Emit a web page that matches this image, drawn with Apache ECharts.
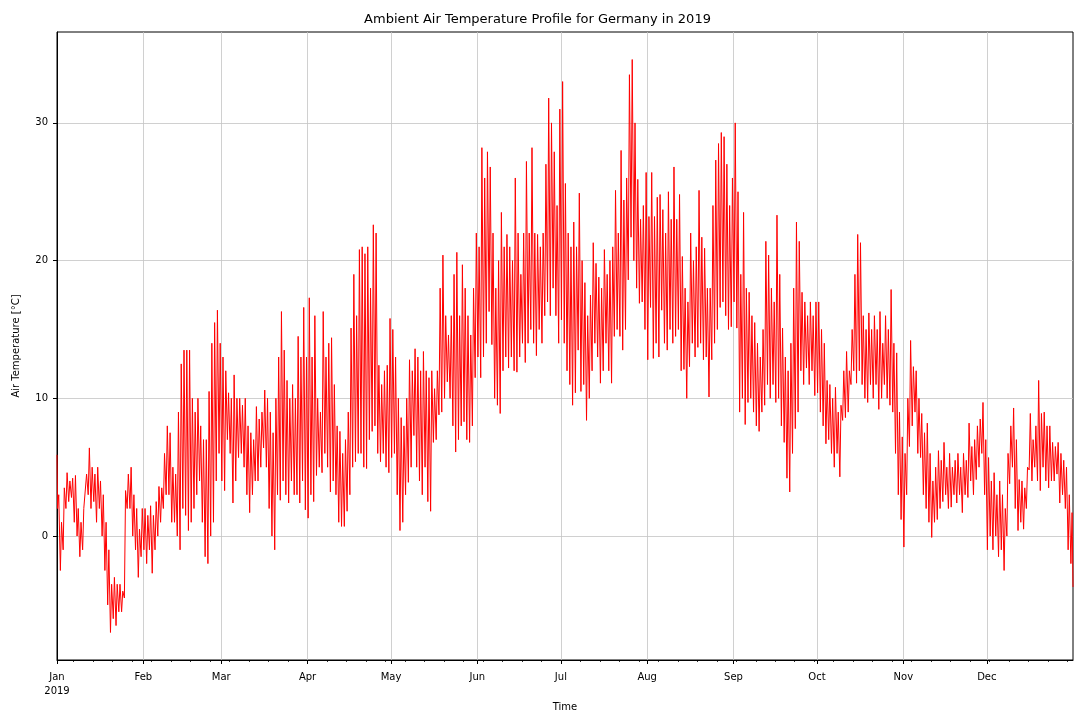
<!DOCTYPE html>
<html>
<head>
<meta charset="utf-8">
<script src="https://cdn.jsdelivr.net/npm/echarts@6/dist/echarts.min.js"></script>
<style>
  html, body { margin: 0; padding: 0; background: #fff; overflow: hidden; }
  #chart { width: 1075px; height: 713px; }
</style>
</head>
<body>
<div id="chart"></div>
<script>
// ---- data (daily low / high, °C) ----
const chartTitle = 'Ambient Air Temperature Profile for Germany in 2019';
const yAxisName = 'Air Temperature [°C]';
const xAxisName = 'Time';
const monthNames = ['Jan', 'Feb', 'Mar', 'Apr', 'May', 'Jun', 'Jul', 'Aug', 'Sep', 'Oct', 'Nov', 'Dec'];
const yTicks = [0, 10, 20, 30];
const year = 2019;
const startValue = 5.9;   // Jan 1, 00:00
const endValue = -3.7;    // Dec 31, 23:00

const dailyLow = [
  // Jan
  2, -2.5, -1, 2, 2.5, 2.8, 1, 0, -1.5, -1, 2, 3, 2, 2.5, 1, 2, 0, -2.5, -5, -7, -6, -6.5, -5.5, -5.5, -4.5, 2, 2, 0, -1, -3, -1.5,
  // Feb
  -1, -2, -1, -2.7, -1, 0, 1, 2, 3, 3, 1, 1, 0, -1, 2, 1.5, 0.4, 1, 2, 3, 4, 1, -1.5, -2, 0, 1, 4, 6,
  // Mar
  4, 3.3, 7, 6, 2.4, 4, 5.7, 6, 5, 3, 1.7, 3, 4, 4, 5, 6.4, 5, 2, 0, -1, 3, 2.6, 4, 3, 2.4, 4, 3, 3, 2.4, 4, 1.9,
  // Apr
  1.3, 3, 2.5, 4.4, 5, 4.6, 6, 5, 3.2, 4, 3, 1, 0.7, 0.7, 1.8, 3, 5, 5.4, 6, 6, 5, 4.9, 7, 7.6, 8, 6, 5.4, 6, 5, 4.6,
  // May
  5.7, 6, 3, 0.4, 1, 3, 3.9, 5, 7.3, 5, 4, 3, 5, 2.5, 1.8, 6.8, 7, 8.8, 9, 10, 11.2, 10, 8, 6.1, 7, 8, 8.3, 7, 6.8, 8, 11.5,
  // Jun
  13, 11.5, 13, 14, 16.3, 13.9, 10, 9.5, 8.9, 12, 13, 12.2, 13, 12, 11.9, 13, 14, 12.6, 14, 15, 14, 13.1, 15, 14, 16, 17, 16, 18, 16, 14,
  // Jul
  15.7, 14, 12, 11, 9.5, 10.4, 13.5, 10.5, 11, 8.4, 10, 12, 14, 13, 11.1, 12, 14, 12, 11.1, 14.5, 15, 14.5, 13.5, 15, 18.6, 21.7, 20, 18, 16.9, 17, 15,
  // Aug
  12.8, 16.6, 12.9, 14, 13, 16.4, 14, 13.5, 15, 14, 14.5, 15, 12, 12.1, 10, 12.3, 14, 13, 13.7, 14, 12.8, 13, 10.1, 12.8, 14, 15, 16.6, 17, 16, 15, 15.2,
  // Sep
  17, 15.1, 9, 10, 8.1, 9.7, 10, 9, 8, 7.6, 9, 9.5, 11, 10, 11, 9.7, 10, 8, 6.8, 4.2, 3.2, 6, 7.8, 9, 12, 11, 12.2, 11, 12, 10.2,
  // Oct
  10.4, 9, 8, 6.7, 7, 6, 5, 6, 4.3, 8.4, 8.6, 9, 11, 12, 11.1, 12, 11, 10, 9.7, 11, 10, 11, 9.2, 10, 11, 10, 9.5, 9, 6, 3, 1.2,
  // Nov
  -0.8, 3, 6.5, 8, 9, 6, 5.7, 3, 2, 1, -0.1, 1, 1.2, 2, 2.5, 3, 2, 2.1, 3, 2.4, 3, 1.7, 3, 2.8, 4, 3, 4.1, 5, 6, 3,
  // Dec
  -1, 0, -1, 0, -1.5, -1, -2.5, 0, 3.8, 5, 2, 0.4, 1, 0.5, 2, 4.8, 4, 5, 4, 3.3, 5, 4, 3.5, 4, 4, 4.5, 2.4, 3, 2, -1, -2
];

const dailyHigh = [
  // Jan
  3, 1, 3.5, 4.6, 4, 4.2, 4.4, 2, 1, 2, 4.5, 6.4, 5, 4.5, 5, 4, 3, 1, -1, -3.5, -3, -3.5, -3.5, -4, 3.3, 4.5, 5, 3, 2, 0.5, 2,
  // Feb
  2, 1.5, 2.2, 1.5, 2.5, 3.6, 3.5, 6, 8, 7.5, 5, 4.5, 9, 12.5, 13.5, 13.5, 13.5, 10, 9, 10, 8, 7, 7, 10.5, 14, 15.5, 16.4, 14,
  // Mar
  13, 12, 10.4, 10, 11.7, 10, 10, 9.5, 10, 8, 7.5, 7, 9.4, 8.5, 9, 10.6, 10, 9, 7.5, 10, 13, 16.3, 13.5, 11.3, 10, 11, 10, 14.5, 13, 16.6, 13,
  // Apr
  17.3, 13, 16, 10, 9, 16.3, 13, 14, 14.4, 11, 8, 7.6, 6, 7, 9, 15.1, 19, 16, 20.8, 21, 20.5, 21, 18, 22.6, 22, 12.4, 11, 12, 12.4, 15.8,
  // May
  15, 13, 10, 8.6, 8, 10, 12.8, 12, 13.6, 13, 12, 13.4, 12, 11.5, 12, 10.7, 12, 18, 20.4, 16, 14.6, 16, 19, 20.6, 16, 19.7, 18, 16, 14.6, 18, 22,
  // Jun
  21, 28.2, 26, 27.9, 26.8, 22, 18, 20, 23.5, 21, 21.9, 21, 20, 26, 22, 19, 22, 27.2, 22, 28.2, 22, 21.9, 21, 22, 27, 31.8, 30, 27.9, 24, 31,
  // Jul
  33, 25.6, 22, 21, 22.8, 21, 24.9, 20, 18.4, 16, 17.5, 21.3, 19.8, 18.8, 18, 20.8, 19, 20, 21, 25.1, 22, 28, 24.4, 26, 33.5, 34.6, 30, 25.9, 23, 24, 26.4,
  // Aug
  23.2, 26.4, 23.2, 24.6, 24.8, 23.7, 22, 25, 23, 26.8, 23, 24.8, 20.3, 18, 17, 22, 20, 21, 25.1, 21.7, 20.9, 18, 18, 24, 27.3, 28.5, 29.3, 29, 27, 24, 26,
  // Sep
  30, 25, 19, 23.5, 18, 17.7, 16, 15.5, 14, 13, 15, 21.4, 20.4, 18, 17, 23.3, 19, 15.1, 13, 12, 14, 18, 22.8, 21.4, 17.7, 17, 16, 17, 16, 17,
  // Oct
  17, 15, 14, 11.3, 11, 10, 10.8, 9, 9.5, 12, 13.4, 12, 15, 19, 21.9, 21.3, 16, 15, 16.2, 15, 16, 15, 16.3, 14, 16, 15, 17.9, 14, 13.3, 9, 7.2,
  // Nov
  6, 10, 14.2, 12.3, 12, 10, 8.9, 7.5, 8.2, 6, 4, 5, 6.2, 5.5, 6.8, 5, 6, 5, 5.5, 6, 5, 6, 5.5, 8.2, 6.5, 7, 8, 8.5, 9.7, 7,
  // Dec
  5.7, 4, 4.6, 3, 4, 3, 2, 6, 8, 9.3, 7, 4.1, 4, 3.5, 5, 8.9, 7, 8, 11.3, 8.9, 9, 8, 8, 6.8, 6.5, 6.8, 6, 5.5, 5, 3, 1.7
];

// ---- build the series (low in the early morning, high in the afternoon) ----
const seriesData = [[new Date(year, 0, 1, 0).getTime(), startValue]];
for (let d = 0; d < dailyLow.length; d++) {
  seriesData.push([new Date(year, 0, 1 + d, 5).getTime(), dailyLow[d]]);
  seriesData.push([new Date(year, 0, 1 + d, 15).getTime(), dailyHigh[d]]);
}
seriesData.push([new Date(year, 11, 31, 23).getTime(), endValue]);

// major ticks: month starts; minor ticks: week starts (Mondays) that are not month starts
const monthStarts = monthNames.map((m, i) => new Date(year, i, 1).getTime());
const weekStarts = [];
for (let d = 0; d < 365; d++) {
  const dt = new Date(year, 0, 1 + d);
  if (dt.getDay() === 1 && dt.getDate() !== 1) weekStarts.push(dt.getTime());
}

const xMin = new Date(year, 0, 1, 0).getTime();
const xMax = new Date(year, 11, 31, 23).getTime();
const FONT = 'DejaVu Sans';
const chart = echarts.init(document.getElementById('chart'), null, { renderer: 'canvas' });
chart.setOption({
  animation: false,
  backgroundColor: '#ffffff',
  textStyle: { fontFamily: FONT },
  title: {
    text: chartTitle,
    left: 'center',
    top: 8,
    textStyle: { fontFamily: FONT, fontSize: 13, fontWeight: 'normal', color: '#000' }
  },
  grid: {
    left: 57, right: 2, top: 32, bottom: 53,
    outerBoundsMode: 'none',
    containLabel: false,
    show: true, borderColor: '#000', borderWidth: 1, backgroundColor: 'transparent'
  },
  xAxis: [{
    type: 'value',
    min: xMin,
    max: xMax,
    name: xAxisName,
    nameLocation: 'middle',
    nameGap: 42,
    nameTextStyle: { fontFamily: FONT, fontSize: 10, color: '#000' },
    axisLine: { show: true, onZero: false, lineStyle: { color: '#000', width: 1 } },
    axisTick: { show: true, length: 4, customValues: monthStarts, lineStyle: { color: '#000' } },
    axisLabel: {
      customValues: monthStarts,
      fontFamily: FONT, fontSize: 10, color: '#000', margin: 10, lineHeight: 14,
      formatter: function (v) {
        const dt = new Date(v);
        const m = monthNames[dt.getMonth()];
        return dt.getMonth() === 0 ? m + '\n' + dt.getFullYear() : m;
      }
    },
    splitLine: { show: true, lineStyle: { color: '#c4c4c4', width: 0.8 } }
  }, {
    type: 'value',
    min: xMin,
    max: xMax,
    position: 'bottom',
    axisLine: { show: false, onZero: false },
    axisTick: { show: true, length: 2, customValues: weekStarts, lineStyle: { color: '#000', width: 0.8 } },
    axisLabel: { show: false },
    splitLine: { show: false }
  }],
  yAxis: {
    type: 'value',
    min: -9.0,
    max: 36.6,
    name: yAxisName,
    nameLocation: 'middle',
    nameGap: 36,
    nameRotate: 90,
    nameTextStyle: { fontFamily: FONT, fontSize: 10, color: '#000' },
    axisLine: { show: true, lineStyle: { color: '#000', width: 1 } },
    axisTick: { show: true, length: 4, customValues: yTicks, lineStyle: { color: '#000' } },
    axisLabel: { customValues: yTicks, fontFamily: FONT, fontSize: 10, color: '#000', margin: 9 },
    splitLine: { show: true, lineStyle: { color: '#c4c4c4', width: 0.8 } }
  },
  series: [{
    id: 'temperature',
    type: 'line',
    xAxisIndex: 0,
    data: seriesData,
    showSymbol: false,
    symbol: 'none',
    lineStyle: { color: '#ff0000', width: 1 },
    itemStyle: { color: '#ff0000' }
  }]
});
</script>
</body>
</html>
